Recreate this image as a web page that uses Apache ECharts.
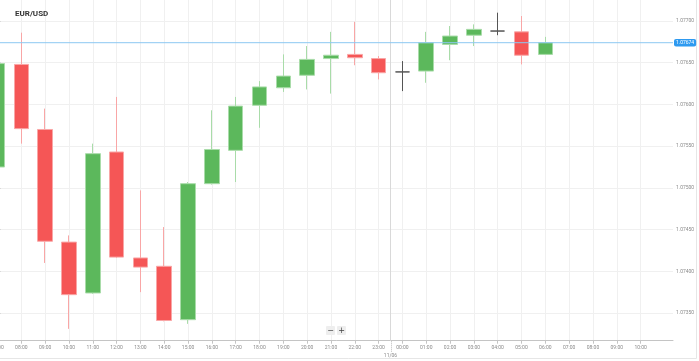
<!DOCTYPE html>
<html><head><meta charset="utf-8">
<script src="https://cdn.jsdelivr.net/npm/echarts@6/dist/echarts.min.js"></script>
<style>html,body{margin:0;padding:0;background:#fff}#c{width:699px;height:361px}</style>
</head><body><div id="c"></div>
<script>
// Hour labels (index 0 = 07:00 of day 1)
const hours = ['07:00','08:00','09:00','10:00','11:00','12:00','13:00','14:00','15:00','16:00','17:00','18:00','19:00','20:00','21:00','22:00','23:00',
               '00:00','01:00','02:00','03:00','04:00','05:00','06:00','07:00','08:00','09:00','10:00'];
// OHLC per hour (indices 0..23)
const opens  = [1.07525,1.07648,1.07570,1.07435,1.07374,1.07543,1.07416,1.07406,1.07342,1.07505,1.07545,1.07599,1.07620,1.07635,1.07655,1.07660,1.07655,1.07639,1.07640,1.07672,1.07683,1.07688,1.07687,1.07660];
const closes = [1.07649,1.07571,1.07436,1.07372,1.07541,1.07417,1.07405,1.07341,1.07505,1.07546,1.07598,1.07621,1.07634,1.07654,1.07659,1.07656,1.07638,1.07639,1.07674,1.07682,1.07690,1.07688,1.07659,1.07674];
const lows   = [1.07520,1.07553,1.07410,1.07331,1.07373,1.07416,1.07375,1.07340,1.07337,1.07504,1.07507,1.07572,1.07615,1.07618,1.07613,1.07647,1.07630,1.07616,1.07626,1.07653,1.07670,1.07683,1.07648,1.07660];
const highs  = [1.07655,1.07686,1.07595,1.07443,1.07553,1.07609,1.07497,1.07453,1.07507,1.07593,1.07609,1.07628,1.07660,1.07670,1.07687,1.07699,1.07658,1.07652,1.07687,1.07694,1.07696,1.07710,1.07706,1.07681];
// Price axis tick values
const yTicks = [1.07350,1.07400,1.07450,1.07500,1.07550,1.07600,1.07650,1.07700];
const title = 'EUR/USD';
const dayBreak = 16.5;      // between 23:00 and 00:00
const dayLabel = '11/06';
const lastPrice = closes[closes.length - 1];
const lastPriceText = lastPrice.toFixed(5);

const xTickIdx = hours.map((h, i) => i);
const candleData = opens.map((o, i) => {
  const item = { value: [i, o, closes[i], lows[i], highs[i]] };
  if (o === closes[i]) {
    item.itemStyle = { color: '#555', color0: '#555', borderColor: '#555', borderColor0: '#555' };
  }
  return item;
});

const yMin = 1.073168, yMax = 1.077252;
const xMin = 0, xMax = 28.36;
const chart = echarts.init(document.getElementById('c'), null, { renderer: 'canvas' });
const option = {
  animation: false,
  backgroundColor: '#fff',
  title: { text: title, left: 10, top: 5, textStyle: { fontSize: 8, fontWeight: 'bold', color: '#333', fontFamily: 'Roboto' } },
  grid: { left: -2.5, right: 26, top: 0, bottom: 20.3, containLabel: false, outerBoundsMode: 'none' },
  xAxis: {
    type: 'value', min: xMin, max: xMax,
    axisLine: { show: true, lineStyle: { color: '#c4c4c4', width: 1 } },
    axisTick: { show: true, length: 3, lineStyle: { color: '#c4c4c4' }, customValues: xTickIdx },
    axisLabel: { customValues: xTickIdx, formatter: v => hours[Math.round(v)] || '', fontSize: 5, color: '#8a8a8a', fontFamily: 'Roboto', margin: 5, showMinLabel: true, hideOverlap: false },
    splitLine: { show: true, lineStyle: { color: '#f0f0f0', width: 1 } }
  },
  yAxis: {
    type: 'value', position: 'right', min: yMin, max: yMax, scale: true,
    axisLine: { show: true, lineStyle: { color: '#c4c4c4', width: 1 } },
    axisTick: { show: true, length: 3, lineStyle: { color: '#c4c4c4' }, customValues: yTicks },
    axisLabel: { customValues: yTicks, formatter: v => Number(v).toFixed(5), fontSize: 5, color: '#8a8a8a', fontFamily: 'Roboto', margin: 3 },
    splitLine: { show: true, lineStyle: { color: '#f0f0f0', width: 1 } }
  },
  series: [{
    type: 'candlestick',
    encode: { x: 0, y: [1, 2, 3, 4] },
    data: candleData,
    barWidth: 15,
    itemStyle: {
      color: '#5cb85c', color0: '#f55656',
      borderColor: '#a9dca9', borderColor0: '#f9a6a6', borderColorDoji: '#555', borderWidth: 1
    },
    markLine: {
      silent: true, symbol: ['none', 'none'], animation: false,
      data: [
        { xAxis: dayBreak, lineStyle: { color: '#d9d9d9', type: 'solid', width: 1 }, label: { show: false } }
      ]
    }
  }, {
    type: 'line',
    data: [[xMin, lastPrice], [xMax, lastPrice]],
    symbol: 'none', silent: true,
    lineStyle: { color: '#8cc8f2', width: 1 },
    endLabel: { show: true, formatter: () => lastPriceText, distance: 1, color: '#fff', backgroundColor: '#2e9af0', fontSize: 5, fontFamily: 'Roboto', padding: [1.5, 2, 1, 2], borderRadius: 2 },
    z: 5
  }]
};
chart.setOption(option);

const dx = chart.convertToPixel({ xAxisIndex: 0 }, dayBreak);
const by = chart.convertToPixel({ yAxisIndex: 0 }, yMin);
chart.setOption({
  graphic: [
    { type: 'line', shape: { x1: Math.round(dx) + 0.5, y1: by, x2: Math.round(dx) + 0.5, y2: by + 11 }, style: { stroke: '#bbb', lineDash: [1, 1], lineWidth: 1 }, silent: true },
    { type: 'text', x: dx, y: by + 12.5, style: { text: dayLabel, fontSize: 5, fill: '#8a8a8a', fontFamily: 'Roboto', align: 'center', verticalAlign: 'top' }, silent: true },
    { type: 'rect', shape: { x: 326, y: 326, width: 9, height: 9, r: 1 }, style: { fill: '#eeeeee' }, silent: true },
    { type: 'rect', shape: { x: 337, y: 326, width: 9, height: 9, r: 1 }, style: { fill: '#eeeeee' }, silent: true },
    { type: 'text', x: 330.5, y: 330.5, style: { text: '−', fontSize: 8, fill: '#444', align: 'center', verticalAlign: 'middle', fontFamily: 'DejaVu Sans' }, silent: true },
    { type: 'text', x: 341.5, y: 330.5, style: { text: '+', fontSize: 8, fill: '#444', align: 'center', verticalAlign: 'middle', fontFamily: 'DejaVu Sans' }, silent: true },
    { type: 'line', shape: { x1: 696.5, y1: 0, x2: 696.5, y2: 358.5 }, style: { stroke: '#e6e6e6', lineWidth: 1 }, silent: true },
    { type: 'line', shape: { x1: 0, y1: 358.5, x2: 696.5, y2: 358.5 }, style: { stroke: '#e6e6e6', lineWidth: 1 }, silent: true }
  ]
});
</script></body></html>
